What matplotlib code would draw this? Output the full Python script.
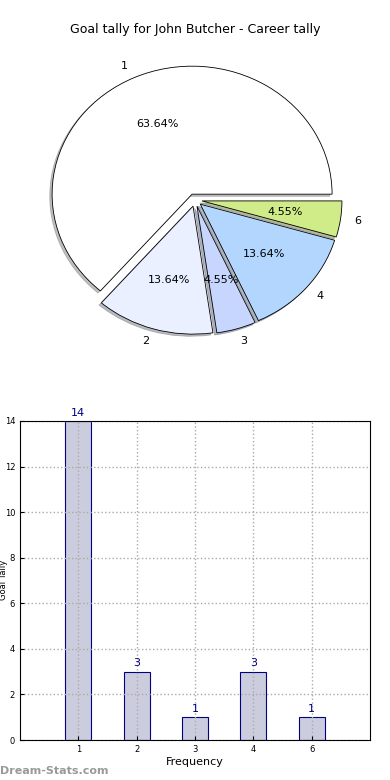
import matplotlib
matplotlib.use("Agg")
import matplotlib.pyplot as plt

# data
labels = ["1", "2", "3", "4", "6"]
goals = [14, 3, 1, 3, 1]
pie_colors = ["#ffffff", "#eaf0ff", "#c6d6ff", "#b3d6ff", "#d0ec88"]

fig = plt.figure(figsize=(3.9, 7.8), dpi=100)

# Pie chart (top)
ax1 = fig.add_axes([20 / 390, 1 - 360 / 780, 350 / 390, 320 / 780])
wedges, texts, autotexts = ax1.pie(
    goals,
    labels=labels,
    colors=pie_colors,
    explode=[0.05] * len(goals),
    autopct="%.2f%%",
    shadow={"ox": -0.012, "oy": -0.012, "shade": 0.5},
    startangle=0,
    wedgeprops={"edgecolor": "black", "linewidth": 0.6},
    textprops={"fontsize": 8},
)
ax1.set_aspect("auto")
ax1.set_xlim(-1.25, 1.25)
ax1.set_ylim(-1.25, 1.25)
fig.text(0.5, 1 - 30 / 780, "Goal tally for John Butcher - Career tally",
         ha="center", va="center", fontsize=9)

# Bar chart (bottom)
ax2 = fig.add_axes([20 / 390, 1 - 740 / 780, 350 / 390, 319 / 780])
x = list(range(len(goals)))
bars = ax2.bar(x, goals, width=0.45, color="#ccccdf", edgecolor="navy", linewidth=0.8)
for xi, v in zip(x, goals):
    ax2.text(xi, v + 0.15, str(v), ha="center", va="bottom", color="navy", fontsize=8)
ax2.set_xlim(-1, 5)
ax2.set_ylim(0, 14)
ax2.set_xticks(x)
ax2.set_xticklabels(labels)
ax2.set_yticks(range(0, 15, 2))
ax2.tick_params(labelsize=6, direction="in", length=3)
ax2.grid(linestyle=":", color="#aaaaaa", linewidth=1)
ax2.set_axisbelow("line")
ax2.set_xlabel("Frequency", fontsize=8, labelpad=2)
fig.text(4 / 390, 1 - 580 / 780, "Goal Tally", rotation=90, ha="center",
         va="center", fontsize=6)

fig.text(0.0, 1 - 771 / 780, "Dream-Stats.com", ha="left", va="center",
         fontsize=8, color="#999999", fontweight="bold")

fig.savefig("out.png", dpi=100)
